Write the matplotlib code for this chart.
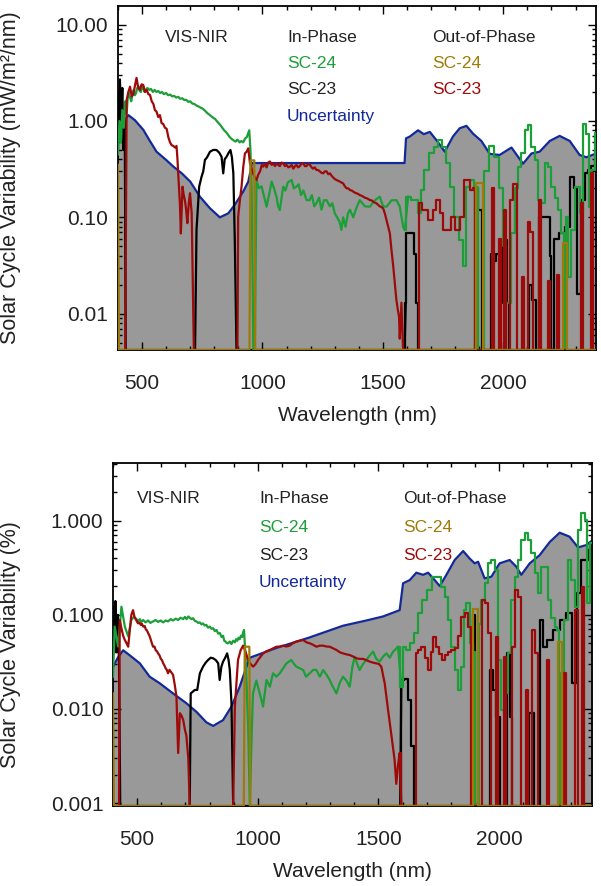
import matplotlib
matplotlib.use("Agg")
import matplotlib.pyplot as plt
import numpy as np
from matplotlib.ticker import FixedLocator, FixedFormatter, MultipleLocator, LogLocator, NullFormatter

plt.rcParams["font.family"] = ["Liberation Sans", "DejaVu Sans"]

GRAY = "#999999"
BLUE = "#13299a"
GREEN = "#1c9e38"
BLACK = "#000000"
RED = "#9e0a0a"
GOLD = "#a07a06"
TEXT = "#222222"

# ---------------- top panel: mW/m^2/nm ----------------
top_unc = [(400, 0.75), (420, 0.95), (443, 1.15), (470, 1.02), (505, 0.81), (530, 0.635), (560, 0.48),
           (600, 0.394), (630, 0.336), (665, 0.286), (700, 0.235), (740, 0.164), (782, 0.124), (823, 0.100),
           (858, 0.110), (885, 0.135), (920, 0.185), (941, 0.235), (950, 0.30), (955, 0.366), (1590, 0.366),
           (1596, 0.66), (1612, 0.69), (1646, 0.80), (1670, 0.73), (1695, 0.77), (1725, 0.62), (1757, 0.48),
           (1791, 0.69), (1819, 0.84), (1847, 0.89), (1874, 0.74), (1909, 0.62), (1944, 0.455), (1985, 0.444),
           (2034, 0.53), (2082, 0.36), (2117, 0.46), (2151, 0.48), (2193, 0.62), (2234, 0.70), (2276, 0.62),
           (2317, 0.444), (2345, 0.42), (2386, 0.46)]

top_in24 = [(400, 0.45), (406, 1.0), (412, 0.6), (418, 1.3), (424, 0.85), (430, 1.6), (436, 1.2), (440, 1.7),
            (445, 1.95), (450, 1.75), (455, 1.6), (460, 1.9), (465, 2.1), (470, 1.85), (475, 1.95), (480, 2.2),
            (485, 2.3), (490, 2.05), (495, 2.0), (500, 2.2), (505, 2.25), (510, 2.0), (515, 2.1), (522, 2.2),
            (530, 2.1), (537, 2.15), (545, 2.0), (552, 2.1), (560, 2.0), (567, 2.05), (575, 1.95), (583, 2.0),
            (590, 1.9), (600, 1.95), (608, 1.85), (617, 1.88), (625, 1.8), (633, 1.82), (642, 1.75), (650, 1.78),
            (658, 1.7), (667, 1.72), (675, 1.65), (683, 1.66), (692, 1.58), (700, 1.6), (708, 1.52), (717, 1.5),
            (725, 1.45), (733, 1.42), (742, 1.38), (750, 1.35), (758, 1.3), (765, 1.25), (772, 1.2), (780, 1.16),
            (787, 1.12), (795, 1.08), (803, 1.05), (810, 1.0), (818, 0.95), (826, 0.9), (833, 0.85), (841, 0.8),
            (850, 0.76), (857, 0.72), (864, 0.68), (872, 0.65), (880, 0.63), (888, 0.61), (896, 0.64), (905, 0.6),
            (912, 0.62), (920, 0.6), (928, 0.66), (935, 0.68), (940, 0.74), (945, 0.8), (950, 0.5), (955, 0.2),
            (962, 0), (968, 0), (975, 0.244), (985, 0.2), (996, 0.21), (1005, 0.17), (1017, 0.129), (1027, 0.17),
            (1038, 0.235), (1048, 0.2), (1058, 0.164), (1065, 0.13), (1072, 0.119), (1086, 0.208), (1095, 0.19),
            (1105, 0.23), (1121, 0.244), (1130, 0.2), (1141, 0.208), (1150, 0.22), (1160, 0.17), (1170, 0.19),
            (1183, 0.151), (1195, 0.15), (1205, 0.17), (1215, 0.13), (1224, 0.14), (1235, 0.16), (1245, 0.12),
            (1255, 0.15), (1266, 0.151), (1280, 0.13), (1290, 0.14), (1300, 0.11), (1310, 0.1), (1320, 0.09),
            (1328, 0.074), (1335, 0.1), (1345, 0.08), (1355, 0.11), (1363, 0.12), (1377, 0.1), (1390, 0.125),
            (1404, 0.151), (1425, 0.13), (1446, 0.129), (1466, 0.15), (1487, 0.164), (1501, 0.13), (1515, 0.129),
            (1536, 0.15), (1556, 0.151), (1570, 0.13), (1584, 0.08), (1591, 0.074), (1605, 0.164), (1625, 0.15),
            (1639, 0.151), (1653, 0.11), (1660, 0.192), (1681, 0.31), (1701, 0.462), (1722, 0.542), (1736, 0.635),
            (1757, 0.542), (1771, 0.364), (1784, 0.208), (1805, 0.102), (1826, 0.058), (1840, 0.031), (1854, 0.208),
            (1868, 0.244), (1888, 0.208), (1900, 0), (1912, 0), (1930, 0.3), (1950, 0.55), (1971, 0.426),
            (1992, 0.2), (2006, 0.05), (2020, 0.013), (2040, 0.068), (2054, 0.2), (2068, 0.336), (2082, 0.462),
            (2096, 0.8), (2110, 0.91), (2123, 0.542), (2137, 0.394), (2151, 0.151), (2165, 0.14), (2179, 0.364),
            (2192, 0.336), (2206, 0.208), (2220, 0.16), (2234, 0.119), (2248, 0.068), (2255, 0), (2262, 0.102),
            (2276, 0.024), (2289, 0.074), (2310, 0.208), (2324, 0.11), (2338, 0.93), (2351, 0.74), (2358, 0.129),
            (2372, 0.31), (2386, 0.744)]

top_in23 = [(400, 2.0), (404, 0.8), (408, 2.7), (413, 1.0), (418, 2.2), (423, 0.5), (428, 1.0), (432, 0),
            (720, 0), (726, 0.074), (737, 0.208), (747, 0.264), (754, 0.3), (761, 0.394), (770, 0.42),
            (782, 0.48), (795, 0.5), (809, 0.5), (820, 0.47), (830, 0.426), (837, 0.286), (843, 0.4), (851, 0.426),
            (860, 0.47), (867, 0.5), (873, 0.42), (879, 0.286), (885, 0.058), (892, 0),
            (1590, 0), (1595, 0.0128), (1601, 0.068), (1625, 0.068), (1632, 0.042), (1639, 0.0128), (1650, 0),
            (1880, 0), (1885, 0.2), (1905, 0.12), (1915, 0), (1945, 0), (1950, 0.042), (1965, 0.035),
            (1978, 0.042), (1992, 0.0128), (2000, 0.058), (2010, 0.058), (2020, 0.0128), (2030, 0), (2100, 0),
            (2110, 0.02), (2130, 0.014), (2140, 0), (2155, 0.1), (2190, 0.1), (2195, 0.04), (2205, 0),
            (2215, 0.06), (2250, 0.068), (2265, 0.08), (2285, 0.26), (2300, 0.2), (2315, 0.016), (2330, 0.15),
            (2345, 0.29), (2360, 0.31), (2372, 0.34), (2386, 0.39)]

top_out23 = [(400, 0), (430, 0), (436, 1.65), (443, 2.0), (450, 2.27), (457, 1.8), (464, 1.9), (470, 2.3),
             (477, 2.8), (484, 2.2), (491, 2.1), (498, 2.4), (505, 2.36), (512, 2.0), (519, 2.1), (526, 1.9),
             (533, 1.86), (540, 1.6), (547, 1.5), (553, 1.3), (560, 1.25), (567, 1.1), (574, 1.15), (581, 0.95),
             (588, 0.93), (595, 0.85), (602, 0.83), (609, 0.68), (616, 0.6), (623, 0.56), (630, 0.55), (637, 0.53),
             (643, 0.55), (647, 0.4), (650, 0.286), (657, 0.14), (661, 0.068), (668, 0.208), (673, 0.17),
             (678, 0.15), (683, 0.12), (688, 0.087), (694, 0.14), (699, 0.178), (706, 0.11), (715, 0), (896, 0),
             (899, 0.102), (906, 0.15), (913, 0.208), (920, 0.33), (927, 0.46), (934, 0.48), (941, 0.52),
             (948, 0.364), (955, 0.32), (961, 0.286), (968, 0.26), (975, 0.244), (983, 0.28), (990, 0.3),
             (997, 0.35), (1003, 0.336), (1010, 0.36), (1017, 0.33), (1024, 0.37), (1031, 0.38), (1038, 0.35),
             (1045, 0.36), (1052, 0.34), (1058, 0.364), (1065, 0.35), (1072, 0.34), (1079, 0.37), (1086, 0.364),
             (1093, 0.34), (1100, 0.35), (1107, 0.33), (1114, 0.336), (1121, 0.35), (1128, 0.32), (1135, 0.34),
             (1141, 0.35), (1148, 0.33), (1155, 0.34), (1162, 0.36), (1169, 0.364), (1176, 0.34), (1183, 0.34),
             (1190, 0.36), (1197, 0.35), (1204, 0.33), (1210, 0.32), (1217, 0.33), (1224, 0.31), (1231, 0.31),
             (1238, 0.3), (1245, 0.29), (1252, 0.286), (1259, 0.3), (1266, 0.3), (1273, 0.28), (1280, 0.286),
             (1287, 0.27), (1293, 0.26), (1300, 0.25), (1307, 0.244), (1314, 0.24), (1321, 0.235), (1328, 0.23),
             (1335, 0.225), (1342, 0.21), (1349, 0.2), (1356, 0.2), (1363, 0.192), (1370, 0.19), (1377, 0.185),
             (1384, 0.18), (1390, 0.178), (1397, 0.175), (1404, 0.17), (1411, 0.168), (1418, 0.164), (1425, 0.16),
             (1432, 0.158), (1439, 0.155), (1446, 0.151), (1453, 0.15), (1460, 0.145), (1467, 0.142), (1473, 0.14),
             (1480, 0.135), (1487, 0.13), (1494, 0.128), (1501, 0.124), (1508, 0.11), (1515, 0.094), (1522, 0.08),
             (1529, 0.068), (1536, 0.045), (1543, 0.031), (1550, 0.02), (1556, 0.0139), (1562, 0.011),
             (1567, 0.0093), (1570, 0.0055), (1577, 0.013), (1584, 0), (1648, 0), (1653, 0.14), (1674, 0.119),
             (1701, 0.094), (1715, 0.119), (1729, 0.151), (1743, 0.11), (1757, 0.074), (1778, 0.074), (1791, 0.102),
             (1805, 0.074), (1833, 0.102), (1840, 0.244), (1854, 0.244), (1868, 0.192), (1881, 0.2), (1888, 0),
             (1950, 0), (1955, 0.2), (1965, 0), (1980, 0), (1985, 0.06), (1995, 0), (2000, 0), (2005, 0.119),
             (2015, 0), (2025, 0), (2030, 0.15), (2050, 0.22), (2060, 0), (2075, 0), (2080, 0.024), (2090, 0),
             (2100, 0), (2105, 0.09), (2120, 0.07), (2130, 0), (2145, 0), (2150, 0.15), (2165, 0), (2185, 0),
             (2190, 0.022), (2200, 0), (2220, 0), (2225, 0.025), (2235, 0), (2320, 0), (2325, 0.14), (2340, 0),
             (2362, 0), (2368, 0.29), (2380, 0)]

top_out24 = [(400, 0.35), (404, 0), (946, 0), (950, 0.39), (966, 0.39), (970, 0), (1885, 0), (1890, 0.225),
             (1912, 0.225), (1918, 0), (2245, 0), (2250, 0.054), (2260, 0.054), (2265, 0), (2386, 0)]

top_ticks = [0.01, 0.1, 1.0, 10.0]
top_ticklabels = ["0.01", "0.10", "1.00", "10.00"]

# ---------------- bottom panel: percent ----------------
bot_unc = [(400, 0.028), (420, 0.035), (442, 0.042), (470, 0.037), (511, 0.0305), (552, 0.022), (594, 0.0187),
           (649, 0.0146), (704, 0.0115), (746, 0.0093), (787, 0.0072), (815, 0.0066), (856, 0.0076),
           (891, 0.0106), (925, 0.0172), (953, 0.028), (967, 0.035), (1077, 0.0444), (1215, 0.0575),
           (1353, 0.0765), (1450, 0.087), (1519, 0.096), (1588, 0.112), (1602, 0.216), (1630, 0.234),
           (1657, 0.28), (1685, 0.266), (1706, 0.28), (1733, 0.234), (1754, 0.202), (1781, 0.264), (1816, 0.382),
           (1851, 0.476), (1878, 0.396), (1899, 0.352), (1913, 0.366), (1940, 0.244), (1968, 0.254),
           (2002, 0.352), (2044, 0.382), (2071, 0.325), (2092, 0.266), (2127, 0.352), (2168, 0.43), (2210, 0.594),
           (2251, 0.745), (2292, 0.676), (2327, 0.52), (2361, 0.55), (2389, 0.624)]

bot_in24 = [(400, 0.022), (407, 0.075), (421, 0.046), (435, 0.122), (449, 0.075), (463, 0.059), (476, 0.088),
            (486, 0.095), (497, 0.09), (504, 0.086), (511, 0.09), (518, 0.084), (525, 0.088), (535, 0.083),
            (545, 0.087), (555, 0.082), (566, 0.085), (576, 0.088), (587, 0.084), (597, 0.087), (608, 0.083),
            (618, 0.087), (628, 0.085), (639, 0.09), (649, 0.087), (660, 0.091), (670, 0.088), (680, 0.093),
            (691, 0.09), (698, 0.095), (705, 0.09), (712, 0.096), (718, 0.093), (725, 0.09), (732, 0.092),
            (739, 0.086), (746, 0.085), (753, 0.082), (760, 0.083), (767, 0.079), (773, 0.081), (780, 0.077),
            (787, 0.078), (794, 0.073), (801, 0.075), (808, 0.071), (815, 0.072), (822, 0.067), (829, 0.069),
            (836, 0.063), (843, 0.064), (850, 0.058), (856, 0.06), (861, 0.053), (866, 0.052), (872, 0.05),
            (877, 0.0498), (884, 0.052), (891, 0.049), (898, 0.053), (905, 0.051), (910, 0.055), (915, 0.053),
            (920, 0.057), (925, 0.055), (930, 0.06), (935, 0.058), (940, 0.066), (943, 0.069), (950, 0.033),
            (960, 0.0065), (967, 0), (974, 0.0047), (980, 0.0146), (994, 0.02), (1008, 0.0146), (1022, 0.0106),
            (1036, 0.0203), (1050, 0.0172), (1063, 0.0239), (1077, 0.022), (1091, 0.0239), (1105, 0.027),
            (1119, 0.0305), (1139, 0.0331), (1150, 0.03), (1160, 0.0281), (1174, 0.027), (1188, 0.0259),
            (1200, 0.022), (1215, 0.0239), (1230, 0.026), (1243, 0.0259), (1257, 0.022), (1271, 0.0259),
            (1285, 0.023), (1298, 0.0203), (1312, 0.017), (1326, 0.0146), (1340, 0.019), (1353, 0.022),
            (1367, 0.02), (1381, 0.0172), (1392, 0.028), (1402, 0.0359), (1412, 0.03), (1422, 0.0259),
            (1436, 0.03), (1450, 0.0331), (1464, 0.037), (1478, 0.0406), (1491, 0.034), (1505, 0.0318),
            (1519, 0.036), (1533, 0.0389), (1547, 0.035), (1561, 0.0406), (1581, 0.0458), (1595, 0.0172),
            (1609, 0.0458), (1622, 0.042), (1636, 0.0498), (1657, 0.0635), (1671, 0.1035), (1692, 0.144),
            (1712, 0.183), (1733, 0.254), (1754, 0.254), (1768, 0.199), (1781, 0.156), (1795, 0.088),
            (1809, 0.0458), (1823, 0.0259), (1837, 0.0159), (1851, 0.0281), (1857, 0.112), (1871, 0.132),
            (1885, 0.05), (1899, 0.04), (1905, 0), (1912, 0), (1920, 0.08), (1933, 0.144), (1947, 0.216),
            (1961, 0.352), (1975, 0.382), (1989, 0.299), (2002, 0.0331), (2016, 0.0097), (2030, 0.0146),
            (2044, 0.0389), (2058, 0.144), (2071, 0.254), (2085, 0.382), (2099, 0.624), (2113, 0.734),
            (2127, 0.624), (2141, 0.45), (2154, 0.276), (2168, 0.169), (2182, 0.325), (2196, 0.325),
            (2210, 0.144), (2223, 0.092), (2237, 0.0748), (2245, 0.069), (2251, 0), (2258, 0.0239), (2279, 0.088),
            (2292, 0.382), (2306, 0.234), (2320, 0.122), (2334, 0.796), (2348, 1.2), (2361, 1.017), (2368, 0.132),
            (2382, 0.574), (2396, 0.864)]

bot_in23 = [(400, 0.12), (405, 0.05), (410, 0.14), (415, 0.04), (420, 0.1), (425, 0.03), (430, 0), (718, 0),
            (722, 0.0146), (739, 0.0159), (749, 0.0159), (760, 0.0239), (773, 0.0281), (784, 0.031),
            (794, 0.0331), (805, 0.035), (815, 0.0345), (826, 0.033), (836, 0.0305), (842, 0.0203), (849, 0.028),
            (856, 0.0318), (865, 0.035), (873, 0.0389), (879, 0.033), (884, 0.0259), (891, 0.0115), (898, 0),
            (1590, 0), (1595, 0.0203), (1616, 0.021), (1630, 0.0124), (1643, 0.004),
            (1650, 0), (1888, 0), (1895, 0.1), (1905, 0), (1960, 0), (1968, 0.026), (1982, 0.0159),
            (1996, 0.0083), (2010, 0), (2030, 0), (2037, 0.0389), (2051, 0.0083), (2060, 0), (2120, 0),
            (2127, 0.009), (2141, 0.009), (2150, 0), (2168, 0), (2175, 0.088), (2189, 0.0458), (2210, 0.054),
            (2237, 0.0689), (2265, 0.088), (2292, 0.1035), (2313, 0.0187), (2334, 0.169), (2348, 0.382),
            (2361, 0.382), (2375, 0.489), (2389, 0.574)]

bot_out23 = [(400, 0), (425, 0), (428, 0.088), (436, 0.07), (442, 0.06), (449, 0.054), (456, 0.05),
             (463, 0.0458), (470, 0.07), (476, 0.1), (483, 0.112), (489, 0.095), (494, 0.09), (499, 0.085),
             (504, 0.081), (510, 0.083), (515, 0.078), (520, 0.08), (525, 0.075), (531, 0.076), (536, 0.07),
             (541, 0.068), (546, 0.0635), (551, 0.06), (556, 0.055), (561, 0.05), (566, 0.0458), (572, 0.046),
             (577, 0.042), (582, 0.041), (587, 0.0389), (593, 0.037), (598, 0.034), (603, 0.033), (608, 0.0305),
             (613, 0.029), (618, 0.027), (623, 0.026), (628, 0.0239), (634, 0.026), (639, 0.025), (644, 0.024),
             (649, 0.0229), (656, 0.018), (663, 0.0135), (670, 0.0034), (677, 0.009), (684, 0.0085), (691, 0.0076),
             (698, 0.006), (704, 0.0052), (712, 0.003), (718, 0), (898, 0), (905, 0.0106), (918, 0.0331),
             (929, 0.042), (939, 0.047), (950, 0.04), (960, 0.0331), (970, 0.03), (981, 0.0281), (991, 0.03),
             (1001, 0.0331), (1012, 0.036), (1022, 0.0389), (1036, 0.041), (1050, 0.0423), (1063, 0.044),
             (1077, 0.0458), (1091, 0.046), (1105, 0.047), (1118, 0.046), (1132, 0.047), (1146, 0.05),
             (1160, 0.052), (1174, 0.053), (1188, 0.054), (1202, 0.051), (1215, 0.0498), (1229, 0.048),
             (1243, 0.0458), (1257, 0.047), (1271, 0.047), (1285, 0.046), (1298, 0.0458), (1312, 0.044),
             (1326, 0.0423), (1340, 0.04), (1353, 0.0389), (1367, 0.038), (1381, 0.0374), (1395, 0.036),
             (1409, 0.0345), (1423, 0.034), (1436, 0.034), (1450, 0.033), (1464, 0.0318), (1478, 0.031),
             (1491, 0.0305), (1502, 0.03), (1512, 0.0281), (1526, 0.0187), (1540, 0.0097), (1554, 0.0052),
             (1567, 0.00286), (1574, 0.0016), (1581, 0.0025), (1588, 0.0034), (1595, 0), (1652, 0), (1657, 0.0389),
             (1671, 0.042), (1685, 0.0458), (1698, 0.035), (1712, 0.0259), (1722, 0.04), (1733, 0.0586),
             (1747, 0.0458), (1758, 0.038), (1768, 0.0331), (1781, 0.037), (1795, 0.0406), (1809, 0.042),
             (1823, 0.044), (1837, 0.06), (1851, 0.0955), (1864, 0.1035), (1878, 0.0748), (1889, 0), (1926, 0),
             (1933, 0.144), (1947, 0.132), (1961, 0.0635), (1972, 0), (1982, 0), (1989, 0.0586), (2000, 0),
             (2016, 0), (2023, 0.0359), (2034, 0), (2050, 0), (2058, 0.0458), (2071, 0.183), (2085, 0.156),
             (2096, 0), (2106, 0), (2113, 0.0159), (2124, 0), (2134, 0), (2141, 0.0689), (2154, 0.0389), (2165, 0),
             (2196, 0), (2203, 0.0331), (2214, 0), (2265, 0), (2272, 0.0239), (2283, 0), (2313, 0), (2320, 0.112),
             (2331, 0), (2341, 0), (2348, 0.199), (2359, 0), (2396, 0)]

bot_out24 = [(400, 0.0146), (404, 0), (942, 0), (946, 0.0458), (965, 0.0458), (969, 0), (1888, 0),
             (1892, 0.116), (1912, 0.116), (1916, 0), (2244, 0), (2248, 0.052), (2258, 0.052), (2262, 0), (2396, 0)]

bot_ticks = [0.001, 0.01, 0.1, 1.0]
bot_ticklabels = ["0.001", "0.010", "0.100", "1.000"]

x_ticks = [500, 1000, 1500, 2000]

# beyond this wavelength the spectra are binned (stepped)
STEP_START = 1595

W, H = 601, 886


def px(x, y):
    return x / W, 1 - y / H


def unzip(pairs):
    a = np.array(pairs, dtype=float)
    return a[:, 0], a[:, 1]


def draw_series(ax, pairs, color, ylo):
    w, v = unzip(pairs)
    v = np.clip(v, ylo, None)
    n = np.searchsorted(w, STEP_START)
    kw = dict(color=color, lw=1.6, zorder=3)
    if n > 0:
        ax.plot(w[:n + 1], v[:n + 1], **kw)
    if n < len(w):
        k = max(n - 1, 0)
        ax.plot(w[k:], v[k:], drawstyle="steps-mid", **kw)


def draw_panel(ax, ylim, unc, in24, in23, out23, out24, yticks, ylabels, ylabel):
    ylo, yhi = ylim
    ax.set_yscale("log")
    ax.set_xlim(400, 2385)
    ax.set_ylim(ylo, yhi)

    w, v = unzip(unc)
    ax.fill_between(w, ylo, v, color=GRAY, lw=0, zorder=1)
    ax.plot(w, v, color=BLUE, lw=1.6, zorder=2)
    for pairs, col in [(in23, BLACK), (in24, GREEN), (out23, RED), (out24, GOLD)]:
        draw_series(ax, pairs, col, ylo)

    ax.xaxis.set_major_locator(FixedLocator(x_ticks))
    ax.xaxis.set_minor_locator(MultipleLocator(100))
    ax.yaxis.set_major_locator(FixedLocator(yticks))
    ax.yaxis.set_major_formatter(FixedFormatter(ylabels))
    ax.yaxis.set_minor_locator(LogLocator(base=10, subs=np.arange(2, 10)))
    ax.yaxis.set_minor_formatter(NullFormatter())
    ax.tick_params(which="both", direction="in", top=True, right=True, width=1,
                   labelsize=15, labelcolor=TEXT)
    ax.tick_params(which="major", length=6)
    ax.tick_params(which="minor", length=3)
    ax.tick_params(axis="x", pad=17)
    ax.tick_params(axis="y", pad=7)
    for s in ax.spines.values():
        s.set_linewidth(1.3)

    ax.set_xlabel("Wavelength (nm)", fontsize=15, color=TEXT)
    ax.set_ylabel(ylabel, fontsize=15.5, color=TEXT)


fig = plt.figure(figsize=(W / 100, H / 100), dpi=100)
ax1 = fig.add_axes([118 / W, 1 - 350 / H, 478 / W, 344 / H])
ax2 = fig.add_axes([113 / W, 1 - 806 / H, 479 / W, 343 / H])

draw_panel(ax1, (0.0042, 15.6), top_unc, top_in24, top_in23, top_out23, top_out24,
           top_ticks, top_ticklabels, "Solar Cycle Variability (mW/m\u00b2/nm)")
draw_panel(ax2, (0.00093, 4.1), bot_unc, bot_in24, bot_in23, bot_out23, bot_out24,
           bot_ticks, bot_ticklabels, "Solar Cycle Variability (%)")

ax1.yaxis.set_label_coords(-0.203, 0.5)
ax1.xaxis.set_label_coords(0.5, -0.19)
ax1.xaxis.label.set_va("center")
ax2.yaxis.set_label_coords(-0.192, 0.47)
ax2.xaxis.label.set_va("center")
ax2.xaxis.set_label_coords(0.5, -0.192)

# in-plot key text
fs = 12.5
for (x0, x1, x2, ys) in [(165, 287, 432, (38, 64, 90, 116)), (137, 259, 403, (499, 528, 555, 582))]:
    fig.text(*px(x0, ys[0]), "VIS-NIR", fontsize=fs, color=TEXT, va="center")
    fig.text(*px(x1, ys[0]), "In-Phase", fontsize=fs, color=TEXT, va="center")
    fig.text(*px(x1, ys[1]), "SC-24", fontsize=fs, color=GREEN, va="center")
    fig.text(*px(x1, ys[2]), "SC-23", fontsize=fs, color=TEXT, va="center")
    fig.text(*px(x1, ys[3]), "Uncertainty", fontsize=fs, color=BLUE, va="center")
    fig.text(*px(x2, ys[0]), "Out-of-Phase", fontsize=fs, color=TEXT, va="center")
    fig.text(*px(x2, ys[1]), "SC-24", fontsize=fs, color=GOLD, va="center")
    fig.text(*px(x2, ys[2]), "SC-23", fontsize=fs, color=RED, va="center")

fig.savefig("out.png", dpi=100)
